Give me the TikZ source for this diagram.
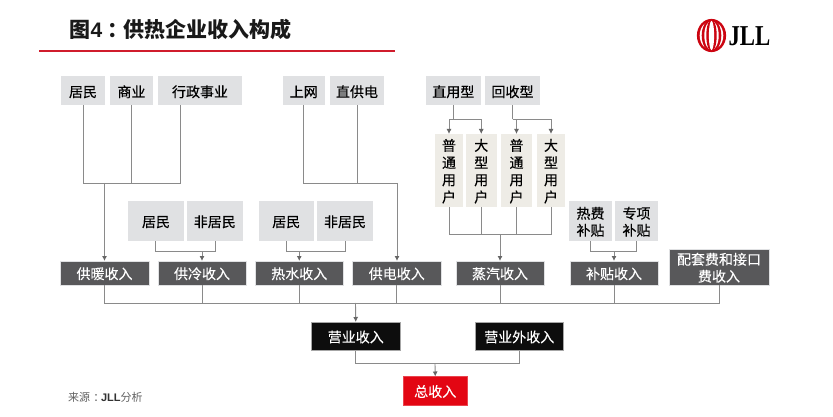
\documentclass[tikz,border=0pt]{standalone}
\usepackage{fontspec}
\setmainfont{Noto Sans CJK SC}
\newfontfamily\med{Noto Sans CJK SC}[FakeBold=0.35]
\newfontfamily\lit{Noto Sans CJK SC}[FakeBold=0.15]
\newfontfamily\lat{Liberation Sans}
\newfontfamily\logofont{Liberation Serif}
\usetikzlibrary{arrows.meta,calc}
\definecolor{gb}{HTML}{E0E1E3}
\definecolor{cb}{HTML}{EEECE6}
\definecolor{db}{HTML}{58585A}
\definecolor{rd}{HTML}{E30613}
\definecolor{ln}{HTML}{8A8A8A}
\definecolor{lr}{HTML}{D01C2C}
\tikzset{
 x=1pt,y=-1pt,
 base/.style={inner sep=0pt,outer sep=0pt,align=center,anchor=center},
 gbox/.style={base,fill=gb,text=black,font=\med\fontsize{14}{17}\selectfont},
 cbox/.style={base,fill=cb,text=black,font=\med\fontsize{14}{17.2}\selectfont},
 dbox/.style={base,fill=db,draw=gb,line width=.5pt,text=white,font=\lit\fontsize{14}{17}\selectfont},
 kbox/.style={base,fill=black!95,draw=gray!70,line width=.5pt,text=white,font=\lit\fontsize{14}{17}\selectfont},
 rbox/.style={base,fill=rd,draw=rd!75,line width=.5pt,text=white,font=\lit\fontsize{14}{17}\selectfont},
 conn/.style={draw=ln,line width=.9pt},
 arr/.style={conn,-{Latex[length=5pt,width=5pt,color=black!60]}},
}
\newcommand{\bx}[7]{\node[#1,minimum width=#5-#4,minimum height=#7-#6] (#2) at ({(#4+#5)/2},{(#6+#7)/2}) {\rule{0pt}{13.3pt}#3};}
\begin{document}
\begin{tikzpicture}
\useasboundingbox (0,0) rectangle (833,417);
\fill[white] (0,0) rectangle (833,417);
% title
\node[base,anchor=west,font=\bfseries\fontsize{21}{25}\selectfont,text=black!90] (title) at (69.5,30) {图{\lat\bfseries 4}\hspace{5pt}：\hspace{-5pt}供热企业收入构成};
\coordinate (rl) at (39,51.2); \coordinate (rr) at (395,51.2);
\draw[lr,line width=1.8pt] (rl) -- (rr);
% logo
\begin{scope}
\fill[rd!90!black] (711.5,35.5) ellipse (14.6 and 16.6);
\fill[white] (711.5,35.5) ellipse (11.8 and 14.6);
\fill[rd!90!black] (711.5,35.5) ellipse (9.8 and 16.2);
\fill[white] (711.5,35.5) ellipse (7.2 and 14.6);
\fill[rd!90!black] (711.5,35.5) ellipse (5.2 and 16.2);
\fill[white] (711.5,35.5) ellipse (2.6 and 14.6);
\end{scope}
\node[base,anchor=west,font=\logofont\bfseries\fontsize{24}{24}\selectfont,text=black] (logo) at (728.5,36.5) {\scalebox{.95}[1.2]{JLL}};
% top row
\bx{gbox}{a1}{居民}{61}{105}{76.5}{105.5}
\bx{gbox}{a2}{商业}{110}{153}{76.5}{105.5}
\bx{gbox}{a3}{行政事业}{158}{242}{76.5}{105.5}
\bx{gbox}{b1}{上网}{282.5}{325}{76.5}{105.5}
\bx{gbox}{b2}{直供电}{330}{384}{76.5}{105.5}
\bx{gbox}{c1}{直用型}{425.7}{481}{76.5}{105.5}
\bx{gbox}{c2}{回收型}{485}{540}{76.5}{105.5}
% user boxes
\bx{cbox}{u1}{普\\通\\用\\户}{435}{463}{134}{207}
\bx{cbox}{u2}{大\\型\\用\\户}{466}{496.5}{134}{207}
\bx{cbox}{u3}{普\\通\\用\\户}{501}{532}{134}{207}
\bx{cbox}{u4}{大\\型\\用\\户}{537}{565}{134}{207}
% second row
\bx{gbox}{d1}{居民}{128}{184}{201}{241}
\bx{gbox}{d2}{非居民}{187}{242.6}{201}{241}
\bx{gbox}{e1}{居民}{258.5}{314}{201}{241}
\bx{gbox}{e2}{非居民}{317}{373}{201}{241}
\bx{gbox}{f1}{热费\\补贴}{569}{612}{201}{241}
\bx{gbox}{f2}{专项\\补贴}{615}{658}{201}{241}
% revenue row
\bx{dbox}{r1}{供暖收入}{60}{149}{261}{285}
\bx{dbox}{r2}{供冷收入}{158}{246}{261}{285}
\bx{dbox}{r3}{热水收入}{255}{343.5}{261}{285}
\bx{dbox}{r4}{供电收入}{352.5}{441}{261}{285}
\bx{dbox}{r5}{蒸汽收入}{456}{544}{261}{285}
\bx{dbox}{r6}{补贴收入}{570}{658}{261}{285}
\bx{dbox}{r7}{配套费和接口\\费收入}{669}{769}{249}{285}
\bx{kbox}{s1}{营业收入}{311.5}{400}{322}{350.5}
\bx{kbox}{s2}{营业外收入}{475}{563.5}{322}{350.5}
\bx{rbox}{t}{总收入}{403}{467.5}{376.5}{405}
\node[base,anchor=west,font=\fontsize{11}{13}\selectfont,text=black!62] (src) at (68,397) {来源\hspace{3.5pt}：\hspace{-3.5pt}{\lat\bfseries\color{black!80}JLL}分析};
% connectors: group A
\coordinate (ja) at (104.5,183);
\draw[conn] (a1.south) |- ([xshift=-20pt]a3.south |- ja) -- ([xshift=-20pt]a3.south);
\draw[conn] (a2.south) -- (a2.south |- ja);
\draw[arr] (ja) -- (ja |- r1.north);
% group B
\coordinate (jb) at (397,183);
\draw[conn] (b1.south) |- (jb);
\draw[conn] (b2.south) -- (b2.south |- jb);
\draw[arr] (jb) -- (jb |- r4.north);
% group C
\coordinate (jc) at (0,119);
\draw[conn] (c1.south) -- (c1.south |- jc);
\draw[conn] (c2.south) -- (c2.south |- jc);
\draw[arr] (c1.south |- jc) -| (u1.north);
\draw[arr] (c1.south |- jc) -| (u2.north);
\draw[arr] (c2.south |- jc) -| (u3.north);
\draw[arr] (c2.south |- jc) -| (u4.north);
% users to steam
\coordinate (ju) at (500,234);
\draw[conn] (u1.south) |- (u4.south |- ju) -- (u4.south);
\draw[conn] (u2.south) -- (u2.south |- ju);
\draw[conn] (u3.south) -- (u3.south |- ju);
\draw[arr] (ju) -- (ju |- r5.north);
% pairs
\coordinate (jd) at (0,251);
\draw[conn] ([xshift=-.5pt]d1.south) |- ([xshift=.2pt]d2.south |- jd) -- ([xshift=.2pt]d2.south);
\draw[arr] (r2.north |- jd) -- (r2.north);
\draw[conn] (e1.south) |- (e2.south |- jd) -- (e2.south);
\draw[arr] (r3.north |- jd) -- (r3.north);
\draw[conn] (f1.south) |- (f2.south |- jd) -- (f2.south);
\draw[arr] (r6.north |- jd) -- (r6.north);
% revenue to totals
\coordinate (jr) at (355.5,303);
\draw[conn] (r1.south) |- (r7.south |- jr) -- (r7.south);
\foreach \n in {r2,r3,r4,r5,r6} \draw[conn] (\n.south) -- (\n.south |- jr);
\draw[arr] (jr) -- (s1.north);
\coordinate (js) at (435,363.5);
\draw[conn] (s1.south) |- (s2.south |- js) -- (s2.south);
\draw[arr] (js) -- (t.north);
\end{tikzpicture}
\end{document}
